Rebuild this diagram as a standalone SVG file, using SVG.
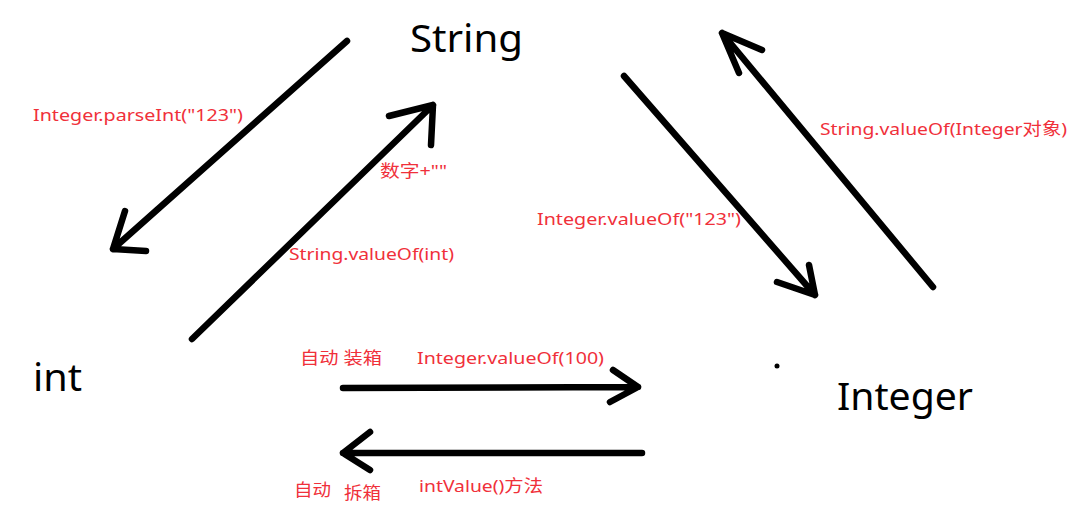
<svg xmlns="http://www.w3.org/2000/svg" width="1087" height="519" viewBox="0 0 1087 519">
<style>
.bg{fill:#fff}
.node{font-family:"Noto Sans","Open Sans","Liberation Sans",sans-serif;font-size:38px;fill:#000}
.lbl{font-family:"Noto Sans","Noto Sans CJK SC","Liberation Sans",sans-serif;font-size:17px;fill:#f0303a}
.ln{stroke:#000;stroke-width:6.5;stroke-linecap:round;stroke-linejoin:round;fill:none}
</style>
<rect class="bg" x="0" y="0" width="1087" height="519"/>
<g id="node-string"><text class="node" x="410" y="52" textLength="113" lengthAdjust="spacingAndGlyphs">String</text></g>
<g id="node-int"><text class="node" x="33" y="391" textLength="49" lengthAdjust="spacingAndGlyphs">int</text></g>
<g id="node-integer"><text class="node" x="837" y="410" textLength="136" lengthAdjust="spacingAndGlyphs">Integer</text><circle cx="777" cy="366" r="2.5" fill="#000"/></g>
<g id="connectors">
<path class="ln" d="M347,41 L113,249 M125,211 L113,249 L146,251"/>
<path class="ln" d="M192,339 L433,105 M389,116 L433,105 L431,145"/>
<path class="ln" d="M624,76 L815,295 M809,265 L815,295 L777,282"/>
<path class="ln" d="M933,287 L722,33 M762,50 L722,33 L739,73"/>
<path class="ln" d="M343,388 L638,387 M613,370 L638,387 L610,402"/>
<path class="ln" d="M642,453 L343,453 M370,432 L343,453 L370,470"/>
</g>
<g id="labels">
<text class="lbl" x="33" y="121" textLength="210" lengthAdjust="spacingAndGlyphs">Integer.parseInt("123")</text>
<text class="lbl" x="380" y="177" textLength="67" lengthAdjust="spacingAndGlyphs">数字+""</text>
<text class="lbl" x="289" y="260" textLength="165" lengthAdjust="spacingAndGlyphs">String.valueOf(int)</text>
<text class="lbl" x="537" y="225" textLength="204" lengthAdjust="spacingAndGlyphs">Integer.valueOf("123")</text>
<text class="lbl" x="820" y="135" textLength="247" lengthAdjust="spacingAndGlyphs">String.valueOf(Integer对象)</text>
<text class="lbl" x="300" y="364" textLength="82" lengthAdjust="spacingAndGlyphs">自动 装箱</text>
<text class="lbl" x="417" y="364" textLength="187" lengthAdjust="spacingAndGlyphs">Integer.valueOf(100)</text>
<text class="lbl" x="294" y="496" textLength="37" lengthAdjust="spacingAndGlyphs">自动</text>
<text class="lbl" x="344" y="499" textLength="37" lengthAdjust="spacingAndGlyphs">拆箱</text>
<text class="lbl" x="419" y="492" textLength="124" lengthAdjust="spacingAndGlyphs">intValue()方法</text>
</g>
</svg>
